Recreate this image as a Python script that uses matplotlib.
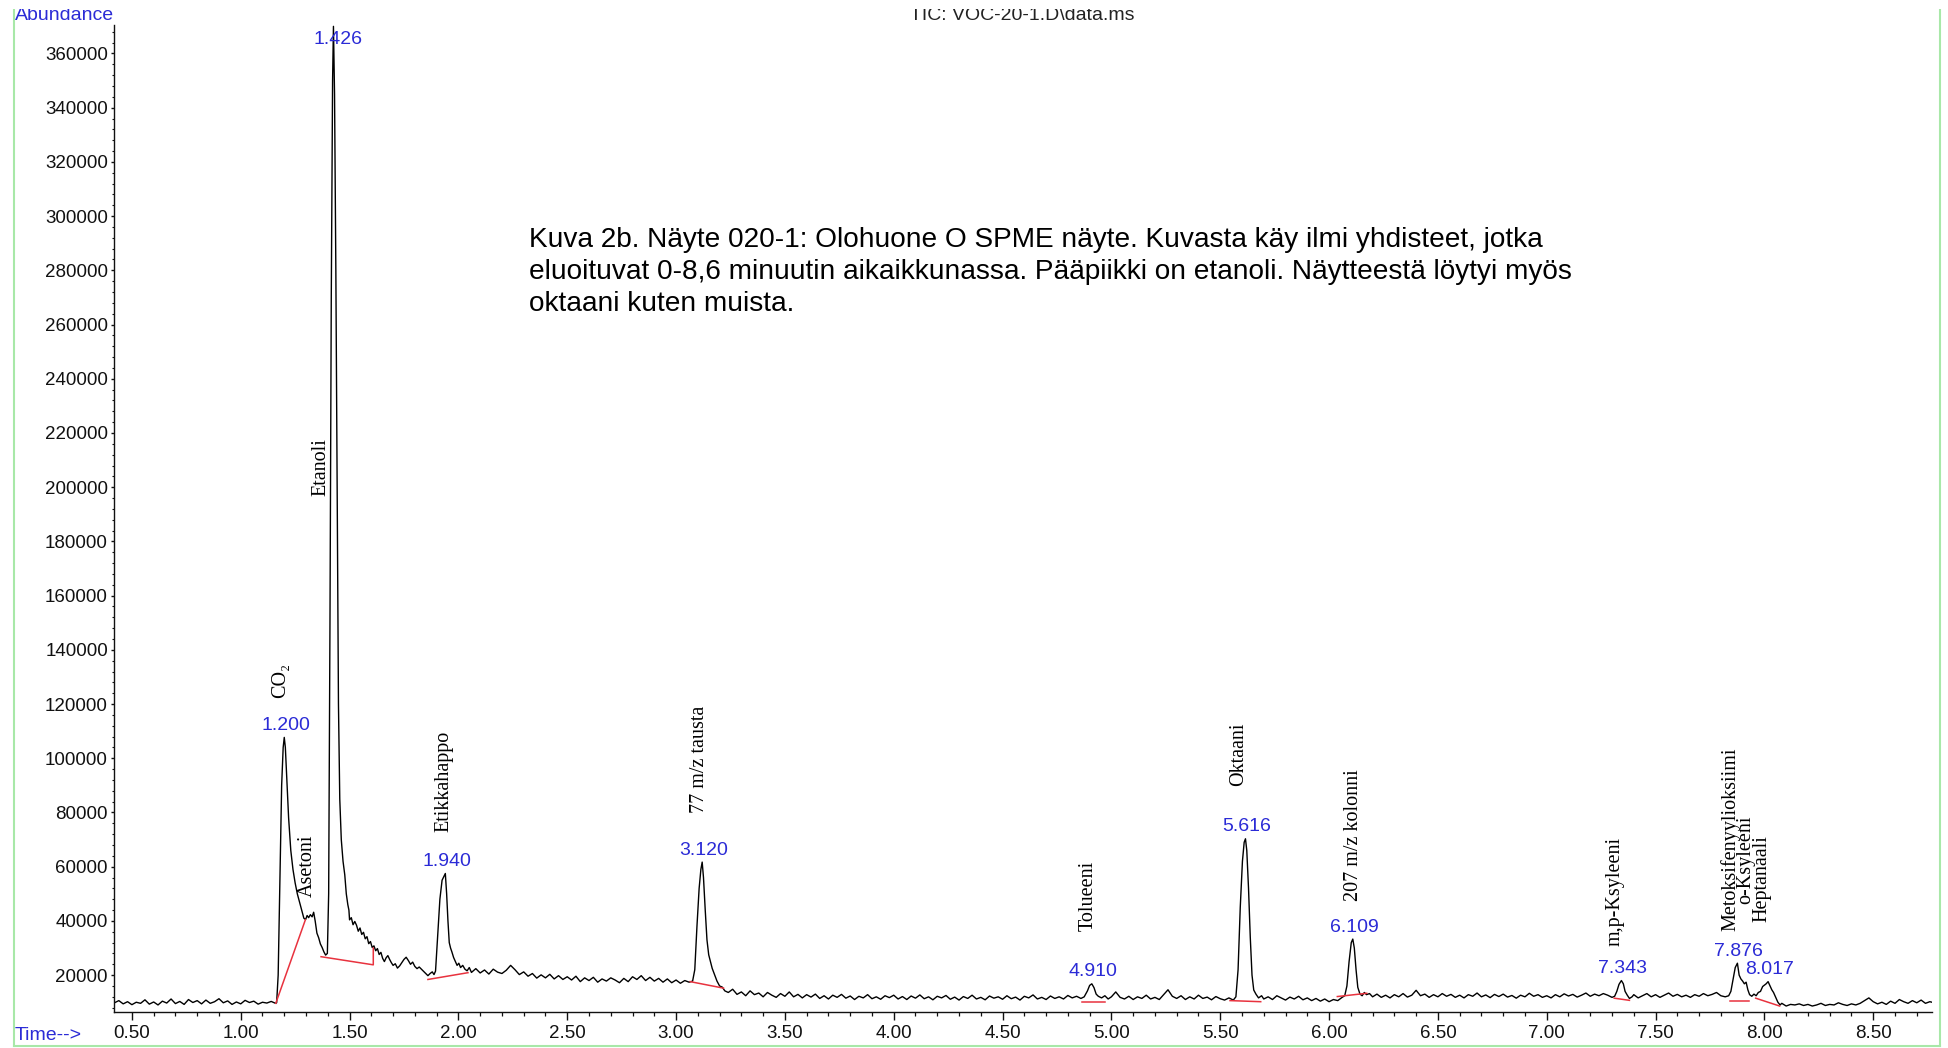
import numpy as np
import matplotlib
matplotlib.use("Agg")
import matplotlib.pyplot as plt
from matplotlib.ticker import MultipleLocator, FixedLocator
from matplotlib.patches import Rectangle
from matplotlib.lines import Line2D

# ---------------- TIC trace (time in min, abundance in thousands) ----------------
trace_t = [
    # flat start
    0.42, 0.44, 0.46, 0.48, 0.50, 0.52, 0.54, 0.56, 0.58, 0.60, 0.62, 0.64, 0.66, 0.68,
    0.70, 0.72, 0.74, 0.76, 0.78, 0.80, 0.82, 0.84, 0.86, 0.88, 0.90, 0.92, 0.94, 0.96,
    0.98, 1.00, 1.02, 1.04, 1.06, 1.08, 1.10, 1.12, 1.14, 1.16,
    # CO2 + asetoni shoulder
    1.165, 1.172, 1.180, 1.188, 1.195, 1.200, 1.205, 1.212, 1.220, 1.230, 1.240, 1.250,
    1.260, 1.270, 1.280, 1.290, 1.298, 1.305, 1.312, 1.320, 1.328, 1.335, 1.342, 1.350,
    1.358, 1.366, 1.374, 1.382, 1.390, 1.398,
    # etanoli
    1.404, 1.410, 1.416, 1.422, 1.426, 1.431, 1.437, 1.443, 1.449, 1.455, 1.462, 1.470,
    1.478, 1.485, 1.492, 1.497,
    # tail
    1.500, 1.508, 1.516, 1.524, 1.532, 1.540, 1.548, 1.556, 1.564, 1.572, 1.580, 1.588,
    1.596, 1.604, 1.612, 1.620, 1.628, 1.636, 1.644, 1.652, 1.660, 1.668, 1.676, 1.684,
    1.692, 1.700, 1.710, 1.720, 1.730, 1.740, 1.750, 1.760, 1.770, 1.780, 1.790, 1.800,
    1.810, 1.820, 1.830, 1.840, 1.850, 1.860, 1.870, 1.880, 1.888,
    # etikkahappo
    1.895, 1.905, 1.915, 1.925, 1.940, 1.946, 1.952, 1.958, 1.964, 1.970, 1.978, 1.986,
    1.994, 2.002, 2.010, 2.020, 2.030, 2.040, 2.050,
    2.06, 2.08, 2.10, 2.12, 2.14, 2.16, 2.18, 2.20, 2.22, 2.24, 2.26, 2.28, 2.30, 2.32,
    2.34, 2.36, 2.38, 2.40, 2.42, 2.44, 2.46, 2.48, 2.50, 2.52, 2.54, 2.56, 2.58, 2.60,
    2.62, 2.64, 2.66, 2.68, 2.70, 2.72, 2.74, 2.76, 2.78, 2.80, 2.82, 2.84, 2.86, 2.88,
    2.90, 2.92, 2.94, 2.96, 2.98, 3.00, 3.02, 3.04, 3.06,
    # 77 m/z
    3.076, 3.086, 3.096, 3.106, 3.114, 3.120, 3.126, 3.134, 3.142, 3.150, 3.158, 3.166,
    3.176, 3.188, 3.200, 3.212, 3.224,
    3.24, 3.26, 3.28, 3.30, 3.32, 3.34, 3.36, 3.38, 3.40, 3.42, 3.44, 3.46, 3.48, 3.50,
    3.52, 3.54, 3.56, 3.58, 3.60, 3.62, 3.64, 3.66, 3.68, 3.70, 3.72, 3.74, 3.76, 3.78,
    3.80, 3.82, 3.84, 3.86, 3.88, 3.90, 3.92, 3.94, 3.96, 3.98, 4.00, 4.02, 4.04, 4.06,
    4.08, 4.10, 4.12, 4.14, 4.16, 4.18, 4.20, 4.22, 4.24, 4.26, 4.28, 4.30, 4.32, 4.34,
    4.36, 4.38, 4.40, 4.42, 4.44, 4.46, 4.48, 4.50, 4.52, 4.54, 4.56, 4.58, 4.60, 4.62,
    4.64, 4.66, 4.68, 4.70, 4.72, 4.74, 4.76, 4.78, 4.80, 4.82, 4.84,
    # tolueeni
    4.860, 4.875, 4.890, 4.900, 4.910, 4.920, 4.930, 4.940, 4.955, 4.970, 4.985, 5.000,
    5.020, 5.040,
    5.06, 5.08, 5.10, 5.12, 5.14, 5.16, 5.18, 5.20, 5.22, 5.24, 5.26, 5.28, 5.30, 5.32,
    5.34, 5.36, 5.38, 5.40, 5.42, 5.44, 5.46, 5.48, 5.50, 5.52, 5.54,
    # oktaani
    5.560, 5.572, 5.582, 5.592, 5.602, 5.610, 5.616, 5.622, 5.630, 5.638, 5.646, 5.654,
    5.664, 5.676, 5.690,
    5.70, 5.72, 5.74, 5.76, 5.78, 5.80, 5.82, 5.84, 5.86, 5.88, 5.90, 5.92, 5.94, 5.96,
    5.98, 6.00, 6.02, 6.04, 6.06,
    # 207 m/z
    6.072, 6.082, 6.092, 6.102, 6.109, 6.116, 6.124, 6.132, 6.142, 6.152, 6.162, 6.172,
    6.186,
    6.20, 6.22, 6.24, 6.26, 6.28, 6.30, 6.32, 6.34, 6.36, 6.38, 6.40, 6.42, 6.44, 6.46,
    6.48, 6.50, 6.52, 6.54, 6.56, 6.58, 6.60, 6.62, 6.64, 6.66, 6.68, 6.70, 6.72, 6.74,
    6.76, 6.78, 6.80, 6.82, 6.84, 6.86, 6.88, 6.90, 6.92, 6.94, 6.96, 6.98, 7.00, 7.02,
    7.04, 7.06, 7.08, 7.10, 7.12, 7.14, 7.16, 7.18, 7.20, 7.22, 7.24, 7.26, 7.28, 7.30,
    # m,p-ksyleeni
    7.312, 7.322, 7.332, 7.343, 7.352, 7.360, 7.370, 7.380, 7.392,
    7.40, 7.42, 7.44, 7.46, 7.48, 7.50, 7.52, 7.54, 7.56, 7.58, 7.60, 7.62, 7.64, 7.66,
    7.68, 7.70, 7.72, 7.74, 7.76, 7.78, 7.80, 7.82,
    # metoksifenyylioksiimi / o-ksyleeni / heptanaali
    7.836, 7.846, 7.856, 7.866, 7.876, 7.884, 7.892, 7.900, 7.908, 7.916, 7.924, 7.932,
    7.942, 7.952, 7.962, 7.972, 7.982, 7.992, 8.002, 8.008, 8.017, 8.026, 8.034, 8.042,
    8.052, 8.062, 8.072,
    8.08, 8.10, 8.12, 8.14, 8.16, 8.18, 8.20, 8.22, 8.24, 8.26, 8.28, 8.30, 8.32, 8.34,
    8.36, 8.38, 8.40, 8.42, 8.44, 8.46, 8.48, 8.50, 8.52, 8.54, 8.56, 8.58, 8.60, 8.62,
    8.64, 8.66, 8.68, 8.70, 8.72, 8.74, 8.76, 8.78,
]
trace_a = [
    9.8, 10.6, 9.4, 10.2, 9.1, 10.0, 9.6, 10.9, 9.3, 10.1, 9.0, 10.4, 9.7, 11.2,
    9.5, 10.3, 9.2, 11.0, 9.9, 10.6, 9.4, 10.8, 9.6, 10.2, 11.3, 9.8, 10.5, 9.2,
    10.1, 9.4, 10.7, 9.9, 10.4, 9.3, 10.0, 9.7, 10.3, 9.6,
    9.8, 20.0, 55.0, 90.0, 104.0, 107.7, 104.0, 92.0, 78.0, 66.0, 59.0, 54.0,
    50.0, 47.0, 44.0, 41.0, 40.5, 42.0, 41.2, 42.3, 41.5, 43.2, 40.0, 35.5,
    33.8, 31.5, 30.2, 28.6, 27.4, 28.0,
    50.0, 150.0, 270.0, 350.0, 370.0, 345.0, 280.0, 200.0, 120.0, 85.0, 70.0, 62.0,
    57.0, 50.0, 46.0, 44.0,
    40.4, 41.2, 38.6, 39.8, 38.4, 36.2, 37.4, 35.0, 35.8, 33.4, 34.2, 31.6,
    32.4, 30.2, 30.8, 29.0, 29.8, 27.6, 28.4, 26.2, 25.0, 26.4, 27.2, 25.8,
    24.6, 23.6, 24.2, 22.6, 23.4, 24.6, 25.8, 26.6, 25.4, 24.0, 24.8, 23.2,
    22.4, 23.0, 22.2, 21.4, 20.6, 19.8, 20.6, 21.2, 20.2,
    21.5, 35.0, 48.0, 55.0, 57.5, 50.0, 40.0, 32.0, 30.0, 28.6, 26.5, 25.0,
    23.6, 24.4, 22.8, 23.6, 22.2, 21.6, 22.8,
    21.0, 22.4, 20.8, 21.9, 20.4, 22.2, 21.1, 20.6, 21.8, 23.6, 22.0, 20.2, 21.2, 19.6,
    20.6, 18.9, 20.1, 19.0, 20.3, 18.6, 19.8, 18.4, 19.4, 18.2, 19.6, 17.6, 19.0, 18.0,
    19.2, 17.4, 18.6, 17.8, 19.0, 18.2, 17.2, 18.8, 17.6, 19.4, 18.4, 19.8, 18.0, 19.2,
    17.8, 18.8, 17.4, 18.6, 17.2, 18.2, 17.0, 18.0, 17.4,
    17.8, 22.0, 38.0, 52.0, 59.0, 61.7, 56.0, 44.0, 33.0, 27.5, 25.0, 22.5,
    20.4, 17.8, 16.0, 15.6, 14.2,
    13.6, 14.8, 12.9, 13.8, 12.4, 14.2, 12.8, 13.4, 12.0, 13.6, 12.6, 11.8, 13.2, 12.2,
    13.8, 12.0, 12.9, 11.6, 12.8, 11.9, 13.0, 11.4, 12.4, 11.2, 12.6, 11.8, 12.9, 11.5,
    12.3, 11.0, 12.2, 11.6, 12.8, 11.3, 12.0, 11.1, 12.4, 11.7, 12.6, 11.2, 12.1, 11.0,
    12.3, 11.5, 12.7, 11.3, 12.0, 10.9, 12.2, 11.6, 12.5, 11.1, 11.9, 10.8, 12.1, 11.4,
    12.6, 11.2, 11.8, 10.9, 12.3, 11.5, 12.0, 11.1, 12.4, 11.3, 11.9, 10.8, 12.2, 11.6,
    12.7, 11.2, 11.8, 11.0, 12.3, 11.4, 12.0, 11.2, 12.5, 11.6, 12.2,
    11.4, 12.0, 14.2, 16.2, 16.8, 15.4, 13.0, 12.2, 11.6, 12.4, 11.2, 12.0,
    13.8, 11.8,
    11.2, 12.2, 11.0, 12.0, 11.4, 12.6, 11.2, 11.8, 11.0, 12.8, 14.6, 12.2, 11.4, 12.4,
    11.0, 12.0, 11.2, 12.6, 11.4, 11.9, 10.9, 12.1, 11.3, 10.8, 11.6,
    10.8, 12.0, 22.0, 45.0, 62.0, 69.0, 70.3, 66.0, 52.0, 34.0, 20.0, 14.5,
    13.0, 11.6, 12.4,
    11.2, 12.0, 11.0, 12.4, 11.6, 10.8, 11.9, 11.2, 12.2, 10.9, 11.6, 10.6, 11.4, 10.4,
    11.2, 10.2, 11.0, 10.6, 11.8,
    12.4, 16.0, 25.0, 32.0, 33.3, 30.0, 22.0, 15.5, 13.0, 12.4, 13.6, 12.8,
    13.2,
    12.0, 13.0, 11.8, 12.6, 11.6, 12.8, 12.0, 13.2, 11.9, 12.6, 14.4, 12.4, 13.0, 11.8,
    12.8, 12.0, 13.2, 12.2, 12.9, 11.8, 12.6, 11.6, 12.8, 12.2, 13.4, 12.0, 12.7, 11.7,
    12.9, 12.1, 13.0, 11.9, 12.5, 11.5, 12.6, 12.0, 13.3, 12.2, 12.8, 11.8, 12.4, 11.6,
    12.8, 12.0, 13.1, 12.3, 12.9, 11.9, 12.6, 13.4, 12.2, 13.0, 12.4, 13.2, 12.6, 11.8,
    12.2, 14.0, 16.6, 18.0, 16.8, 14.0, 12.6, 11.4, 12.0,
    12.8, 11.6, 12.4, 13.2, 12.0, 12.8, 11.8, 12.6, 13.4, 12.2, 12.9, 12.0, 12.6, 11.8,
    12.8, 12.2, 13.2, 12.4, 12.9, 13.6, 12.4, 12.0,
    12.4, 14.0, 18.5, 22.8, 24.4, 20.0, 18.6, 17.8, 16.8, 17.4, 14.6, 12.8,
    12.2, 13.0, 12.4, 13.6, 14.0, 15.8, 16.4, 16.8, 17.6, 16.0, 14.6, 13.6,
    11.8, 10.0, 9.0,
    9.6, 8.6, 9.2, 9.0, 9.4, 8.8, 9.2, 8.6, 9.0, 9.6, 8.8, 9.2, 9.0, 9.8,
    9.2, 8.8, 9.4, 9.0, 9.6, 10.6, 11.6, 10.2, 9.4, 10.0, 9.2, 10.4, 9.6, 11.0,
    10.2, 9.6, 10.6, 9.8, 10.8, 9.6, 10.2, 9.8,
]

# labelled peaks: retention time and apex abundance (thousands)
peak_rt = [1.200, 1.426, 1.940, 3.120, 4.910, 5.616, 6.109, 7.343, 7.876, 8.017]
peak_apex = [107.7, 370.0, 57.5, 61.7, 16.8, 70.3, 33.3, 18.0, 24.4, 17.6]

# integration baselines (time, abundance in thousands)
int_baselines = [
    [(1.161, 9.6), (1.297, 40.4)],
    [(1.369, 26.8), (1.609, 23.8), (1.609, 30.0)],
    [(1.860, 18.4), (2.044, 20.9)],
    [(3.065, 17.6), (3.218, 15.2)],
    [(4.864, 10.2), (4.971, 10.2)],
    [(5.545, 10.6), (5.686, 10.2)],
    [(6.038, 12.1), (6.173, 13.3)],
    [(7.310, 11.5), (7.380, 10.7)],
    [(7.840, 10.3), (7.930, 10.3)],
    [(7.960, 11.5), (8.070, 8.6)],
]

compounds = ["CO\u2082", "Etanoli", "Asetoni", "Etikkahappo", "77 m/z tausta", "Tolueeni",
             "Oktaani", "207 m/z kolonni", "m,p-Ksyleeni", "Metoksifenyylioksiimi",
             "o-Ksyleeni", "Heptanaali"]
# where each compound name sits (time, bottom of text in thousands)
compound_pos = [(1.185, 122.4), (1.368, 196.7), (1.305, 48.9), (1.933, 72.8),
                (3.108, 79.7), (4.895, 36.1), (5.586, 89.7), (6.111, 47.5),
                (7.315, 30.6), (7.846, 36.1), (7.914, 46.2), (7.988, 39.7)]

caption = ["Kuva 2b. Näyte 020-1: Olohuone O SPME näyte. Kuvasta käy ilmi yhdisteet, jotka",
           "eluoituvat 0-8,6 minuutin aikaikkunassa. Pääpiikki on etanoli. Näytteestä löytyi myös",
           "oktaani kuten muista."]

W, H = 1948, 1048
BLUE = "#2b2bd6"
RED = "#e8323e"
SANS = ["Liberation Sans", "DejaVu Sans"]
SERIF = ["Liberation Serif", "DejaVu Serif"]


def fx(px):
    return px / W


def fy(py):
    return 1 - py / H


fig = plt.figure(figsize=(W / 100, H / 100), dpi=100)
ax = fig.add_axes([fx(113.5), fy(1012), fx(1932) - fx(113.5), fy(25) - fy(1012)])

t = np.array(trace_t)
a = np.array(trace_a) * 1000
ax.plot(t, a, color="black", lw=1.0, zorder=2)

for seg in int_baselines:
    st = [p[0] for p in seg]
    sa = [p[1] * 1000 for p in seg]
    ax.plot(st, sa, color=RED, lw=1.1, zorder=3)

ax.set_xlim(0.4155, 8.77)
ax.set_ylim(6400, 370500)

for s in ["top", "right"]:
    ax.spines[s].set_visible(False)
for s in ["left", "bottom"]:
    ax.spines[s].set_linewidth(1.0)
    ax.spines[s].set_color("#111111")

ax.xaxis.set_major_locator(FixedLocator(np.arange(0.5, 8.51, 0.5)))
ax.xaxis.set_minor_locator(MultipleLocator(0.1))
ax.set_xticklabels(["%.2f" % v for v in np.arange(0.5, 8.51, 0.5)])
ax.yaxis.set_major_locator(FixedLocator(np.arange(20000, 360001, 20000)))
ax.yaxis.set_minor_locator(MultipleLocator(4000))
ax.set_yticklabels(["%d" % v for v in np.arange(20000, 360001, 20000)])

ax.tick_params(axis="x", which="major", length=6, width=1.0, pad=3, labelsize=13.5,
               colors="#111111")
ax.tick_params(axis="x", which="minor", length=3, width=0.9, colors="#111111")
ax.tick_params(axis="y", which="major", length=2.5, width=1.0, pad=1.5, labelsize=13.5,
               colors="#111111")
ax.tick_params(axis="y", which="minor", length=1.5, width=0.8, colors="#111111")
for lab in ax.get_xticklabels() + ax.get_yticklabels():
    lab.set_family(SANS)

# retention time labels
ytop = ax.get_ylim()[1]
for rt, ap in zip(peak_rt, peak_apex):
    ap = ap * 1000
    if ap > 0.97 * ytop:
        ax.annotate("%.3f" % rt, xy=(rt, ap), xytext=(3.5, -9.5), textcoords="offset points",
                    ha="center", va="center", color=BLUE, fontsize=14, family=SANS,
                    annotation_clip=False)
    else:
        ax.annotate("%.3f" % rt, xy=(rt, ap), xytext=(1, 2.5), textcoords="offset points",
                    ha="center", va="bottom", color=BLUE, fontsize=14, family=SANS)

# compound names
for name, (ct, ca) in zip(compounds, compound_pos):
    ax.text(ct, ca * 1000, name, rotation=90, ha="center", va="bottom",
            fontsize=14.5, family=SERIF, color="black")

# caption
for i, line in enumerate(caption):
    fig.text(fx(529), fy(240 + 32 * i), line, ha="left", va="center",
             fontsize=20.2, family=SANS, color="black")

fig.text(fx(1022), fy(15), "TIC: VOC-20-1.D\\data.ms", ha="center", va="center",
         fontsize=14, family=SANS, color="#222222")
fig.text(fx(15), fy(15.5), "Abundance", ha="left", va="center", fontsize=14,
         family=SANS, color=BLUE)
fig.text(fx(15), fy(1035), "Time-->", ha="left", va="center", fontsize=14,
         family=SANS, color=BLUE)

# frame round the page, top edge cut off
fig.add_artist(Line2D([fx(14), fx(14)], [fy(9), fy(1046)], color="#a8e8a8", lw=1.5))
fig.add_artist(Line2D([fx(1940), fx(1940)], [fy(9), fy(1046)], color="#a8e8a8", lw=1.5))
fig.add_artist(Line2D([fx(14), fx(1940)], [fy(1046), fy(1046)], color="#a8e8a8", lw=1.5))
fig.add_artist(Rectangle((0, fy(8.5)), 1, 1 - fy(8.5), transform=fig.transFigure,
                         facecolor="white", edgecolor="none", zorder=20))

fig.savefig("out.png", dpi=100)
